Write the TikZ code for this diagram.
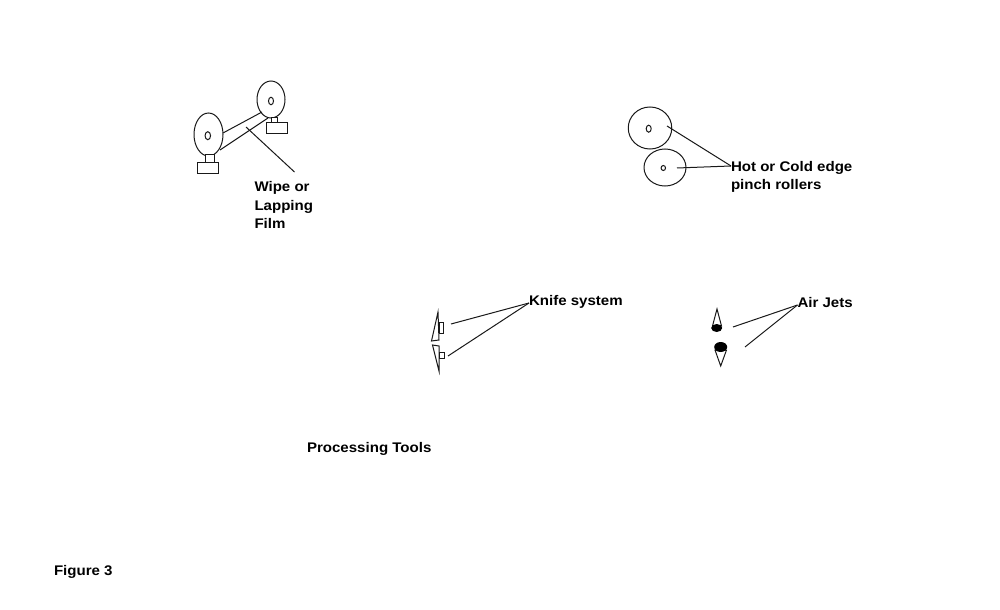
\documentclass[tikz,border=0pt]{standalone}
\usepackage{fontspec}
\setmainfont[FakeStretch=1.08]{Liberation Sans}
\usetikzlibrary{shapes.geometric}
\tikzset{
  ln/.style={draw=black!90,line width=1bp},
  part/.style={ln,inner sep=0pt,outer sep=0pt,minimum width=0pt},
  roll/.style={part,ellipse,fill=white},
  boxp/.style={part,rectangle,fill=white},
  lbl/.style={inner sep=0pt,outer sep=0pt,anchor=west,text height=11bp,text depth=0bp,font=\fontsize{14}{14}\selectfont\bfseries,text=black},
  lbllow/.style={lbl,text height=5.4bp},
  blob/.style={ellipse,fill=black,inner sep=0pt}
}
\begin{document}
\begin{tikzpicture}[x=1bp,y=-1bp]
\useasboundingbox (0,0) rectangle (1000,610);
% wipe / lapping film
\node[roll,minimum width=29bp,minimum height=43bp] (rollA) at (208.5,134.5) {};
\node[roll,minimum width=5.5bp,minimum height=8bp] (hubA) at (207.8,135.7) {};
\node[roll,minimum width=28bp,minimum height=37bp] (rollB) at (271,99.5) {};
\node[roll,minimum width=5bp,minimum height=7.5bp] (hubB) at (271,101) {};
\node[boxp,minimum width=9bp,minimum height=8bp] (stemA) at (209.5,159) {};
\node[boxp,minimum width=21bp,minimum height=11bp] (baseA) at (207.5,168.5) {};
\node[boxp,minimum width=6bp,minimum height=5bp] (stemB) at (274,120.5) {};
\node[boxp,minimum width=21bp,minimum height=11bp] (baseB) at (276.5,128.5) {};
\coordinate (filmA1) at (223,133);
\coordinate (filmB1) at (262,112);
\coordinate (filmA2) at (220,150);
\coordinate (filmB2) at (268,118);
\draw[ln] (filmA1) -- (filmB1);
\draw[ln] (filmA2) -- (filmB2);
\coordinate (filmPt) at (246,127);
\coordinate (filmEnd) at (294.5,172);
\draw[ln] (filmPt) -- (filmEnd);
\node[lbl] (wipe) at (254.5,186.5) {Wipe or};
\node[lbl] (lap) at (254.5,205) {Lapping};
\node[lbl] (film) at (254.5,223.5) {Film};
% pinch rollers
\node[roll,minimum width=43.5bp,minimum height=42bp] (rollC) at (650,128) {};
\node[roll,minimum width=5bp,minimum height=7bp] (hubC) at (648.7,128.7) {};
\node[roll,minimum width=42bp,minimum height=37bp] (rollD) at (665,167.5) {};
\node[roll,minimum width=4.5bp,minimum height=5bp] (hubD) at (663.3,168) {};
\node[lbl] (hot) at (731,166) {Hot or Cold edge};
\node[lbl] (pinch) at (731,184.5) {pinch rollers};
\coordinate (ptC) at (667,126);
\coordinate (ptD) at (677,168);
\draw[ln] (ptC) -- (hot.west);
\draw[ln] (ptD) -- (hot.west);
% knife system
\node[lbllow] (knife) at (529,303) {Knife system};
\draw[ln] (438,312) -- (431.5,341) -- (439,340) -- cycle;
\draw[ln] (432.5,345) -- (439,346) -- (439,371) -- cycle;
\node[boxp,minimum width=4.5bp,minimum height=11bp] (bladeA) at (441.3,327.5) {};
\node[boxp,minimum width=4.5bp,minimum height=6bp] (bladeB) at (442.2,355) {};
\coordinate (ptK1) at (451,324);
\coordinate (ptK2) at (448,356);
\draw[ln] (ptK1) -- (knife.west);
\draw[ln] (ptK2) -- (knife.west);
% air jets
\node[lbllow] (air) at (797.5,305) {Air Jets};
\draw[ln] (717,309) -- (712.5,326) -- (721.5,326) -- cycle;
\draw[ln] (715,350) -- (726.5,350) -- (720.7,366) -- cycle;
\node[blob,minimum width=11bp,minimum height=8bp] (jetA) at (716.7,328) {};
\node[blob,minimum width=13bp,minimum height=10bp] (jetB) at (720.7,347) {};
\coordinate (ptJ1) at (733,327);
\coordinate (ptJ2) at (745,347);
\draw[ln] (ptJ1) -- (air.west);
\draw[ln] (ptJ2) -- (air.west);
% captions
\node[lbl] (tools) at (307,446.5) {Processing Tools};
\node[lbl] (fig) at (54,569.5) {Figure 3};
\end{tikzpicture}
\end{document}
